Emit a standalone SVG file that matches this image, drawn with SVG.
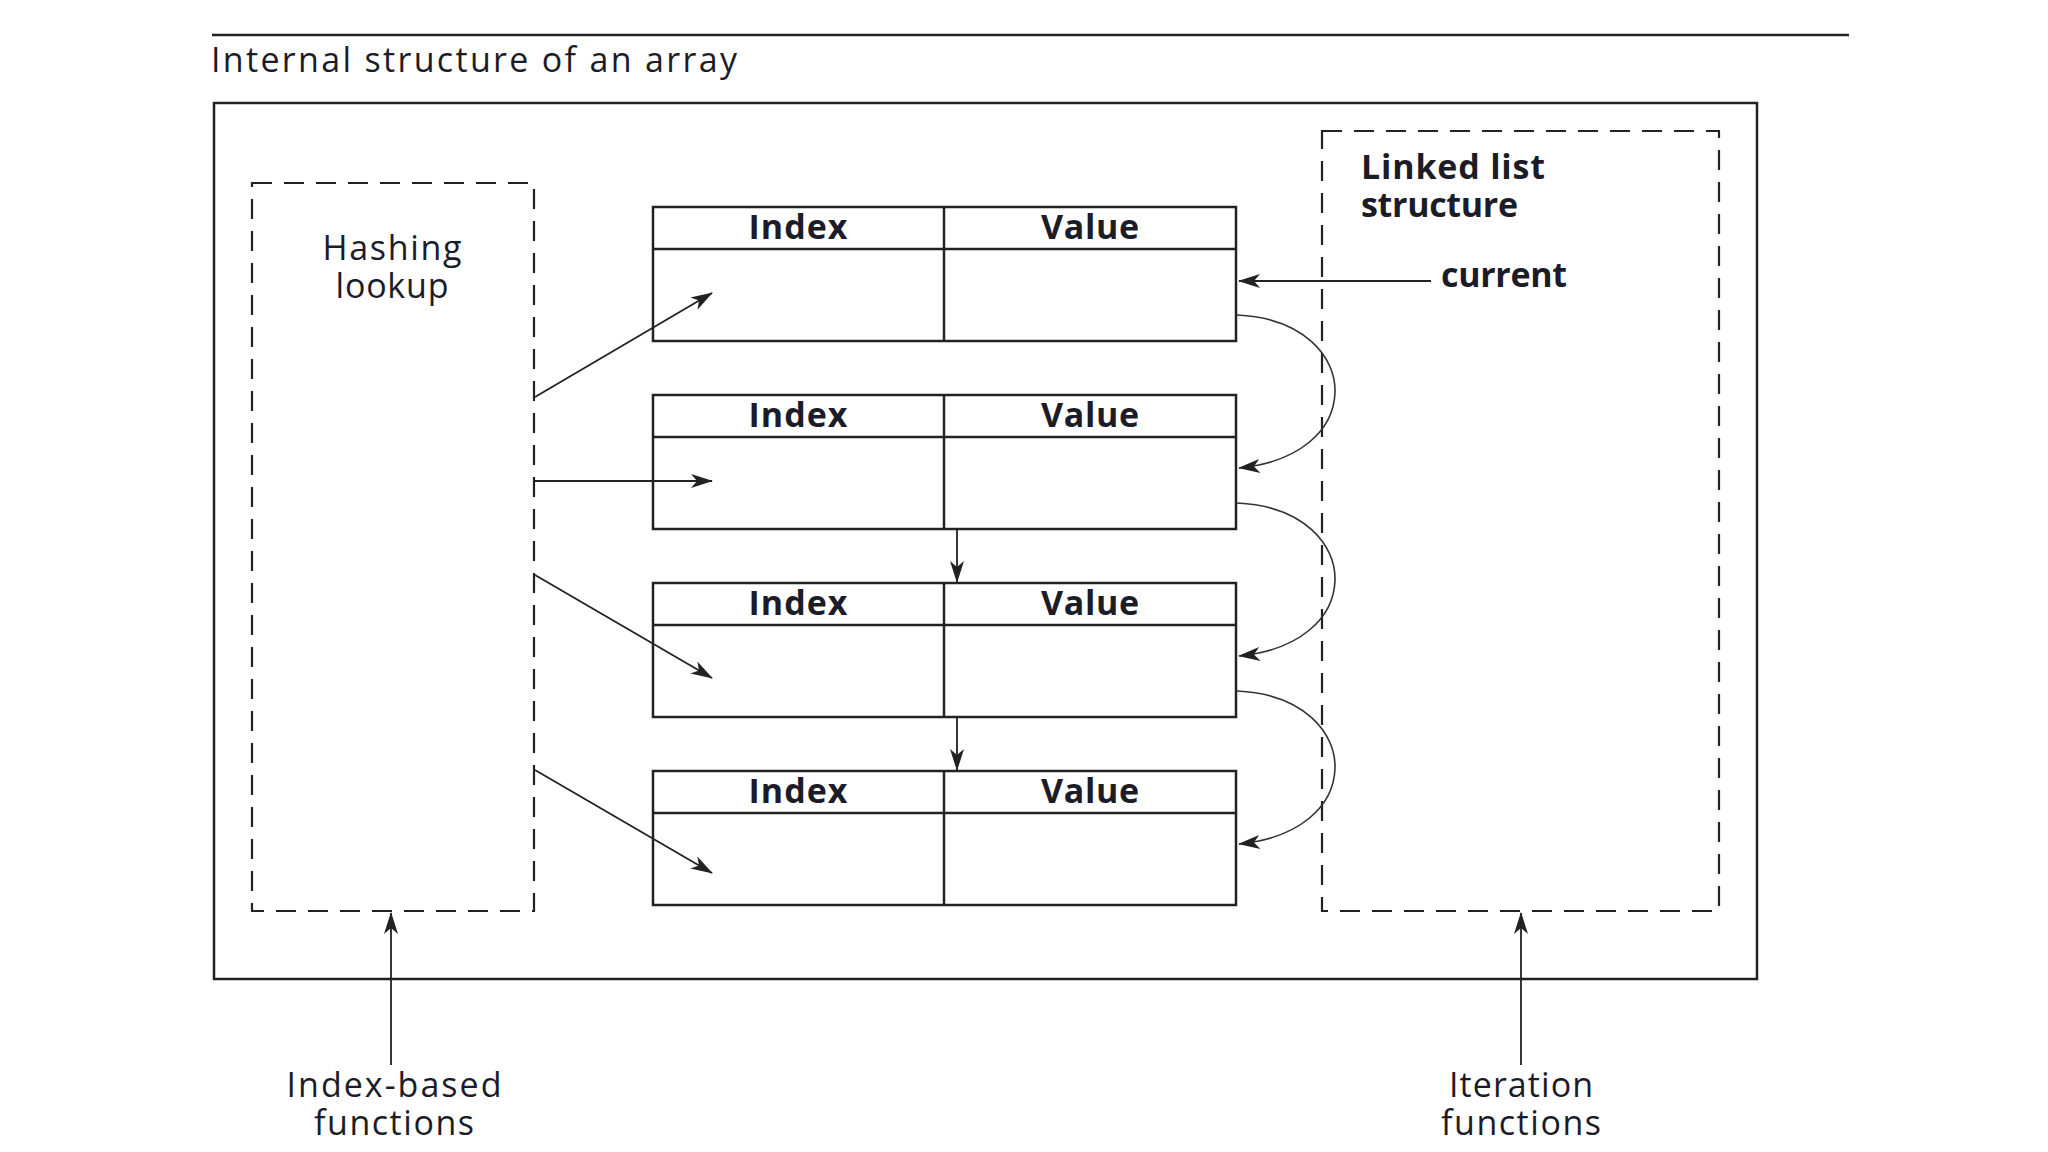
<svg xmlns="http://www.w3.org/2000/svg" width="2048" height="1152" viewBox="0 0 2048 1152">
<style>
.t{font-family:"Open Sans","Liberation Sans",sans-serif;fill:#1c1c28;}
.b{font-weight:bold;font-size:34px;}
.n{font-weight:normal;font-size:34px;}
.c{text-anchor:middle;}
.box{fill:#fff;stroke:#222;stroke-width:2.5;}
.dash{fill:none;stroke:#222;stroke-width:2.2;stroke-dasharray:20 12;}
.ln{fill:none;stroke:#222;stroke-width:2.5;}
.ar{fill:none;stroke:#222;stroke-width:1.8;marker-end:url(#ah);}
.cv{fill:none;stroke:#333;stroke-width:1.6;marker-end:url(#ah);}
</style>
<defs>
<marker id="ah" markerUnits="userSpaceOnUse" markerWidth="22" markerHeight="14" refX="21" refY="7" orient="auto">
<path d="M0,0 L22,7 L0,14 L6,7 Z" fill="#222"/>
</marker>
</defs>
<rect width="2048" height="1152" fill="#fff"/>
<line class="ln" x1="212" y1="35" x2="1849" y2="35"/>
<text class="t n" x="211" y="72" textLength="526">Internal structure of an array</text>
<g id="outer"><rect class="ln" x="214" y="103" width="1543" height="876"/></g>
<g id="hashing">
<rect class="dash" x="252" y="183" width="282" height="728"/>
<text class="t n c" x="392" y="260" textLength="139">Hashing</text>
<text class="t n c" x="392" y="298" textLength="113">lookup</text>
</g>
<g id="linked">
<rect class="dash" x="1322" y="131" width="397" height="780"/>
<text class="t b" x="1361" y="179" textLength="184">Linked list</text>
<text class="t b" x="1361" y="217" textLength="157">structure</text>
<text class="t b" x="1441" y="287" textLength="126">current</text>
</g>
<g id="row1">
<rect class="box" x="653" y="207" width="583" height="134"/>
<line class="ln" x1="653" y1="249" x2="1236" y2="249"/>
<line class="ln" x1="944" y1="207" x2="944" y2="341"/>
<text class="t b c" x="798" y="239" textLength="99">Index</text>
<text class="t b c" x="1090" y="239" textLength="98">Value</text>
</g>
<g id="row2">
<rect class="box" x="653" y="395" width="583" height="134"/>
<line class="ln" x1="653" y1="437" x2="1236" y2="437"/>
<line class="ln" x1="944" y1="395" x2="944" y2="529"/>
<text class="t b c" x="798" y="427" textLength="99">Index</text>
<text class="t b c" x="1090" y="427" textLength="98">Value</text>
</g>
<g id="row3">
<rect class="box" x="653" y="583" width="583" height="134"/>
<line class="ln" x1="653" y1="625" x2="1236" y2="625"/>
<line class="ln" x1="944" y1="583" x2="944" y2="717"/>
<text class="t b c" x="798" y="615" textLength="99">Index</text>
<text class="t b c" x="1090" y="615" textLength="98">Value</text>
</g>
<g id="row4">
<rect class="box" x="653" y="771" width="583" height="134"/>
<line class="ln" x1="653" y1="813" x2="1236" y2="813"/>
<line class="ln" x1="944" y1="771" x2="944" y2="905"/>
<text class="t b c" x="798" y="803" textLength="99">Index</text>
<text class="t b c" x="1090" y="803" textLength="98">Value</text>
</g>
<g id="labels">
<text class="t n c" x="394" y="1097" textLength="215">Index-based</text>
<text class="t n c" x="394" y="1135" textLength="160">functions</text>
<text class="t n c" x="1521" y="1097" textLength="144">Iteration</text>
<text class="t n c" x="1521" y="1135" textLength="160">functions</text>
</g>
<g id="connectors">
<path class="ar" d="M535,397 L712,293"/>
<path class="ar" d="M535,481 L712,481"/>
<path class="ar" d="M535,575 L712,678"/>
<path class="ar" d="M535,770 L712,873"/>
<path class="ar" d="M1431,281 L1239,281"/>
<path class="ar" d="M957,529 L957,582"/>
<path class="ar" d="M957,717 L957,770"/>
<path class="cv" d="M1237,315 C1305,318 1336,358 1335,392 C1334,430 1300,462 1239,468"/>
<path class="cv" d="M1237,503 C1305,506 1336,546 1335,580 C1334,618 1300,650 1239,656"/>
<path class="cv" d="M1237,691 C1305,694 1336,734 1335,768 C1334,806 1300,838 1239,844"/>
<path class="ar" d="M391,1065 L391,913"/>
<path class="ar" d="M1521,1065 L1521,913"/>
</g>
</svg>
